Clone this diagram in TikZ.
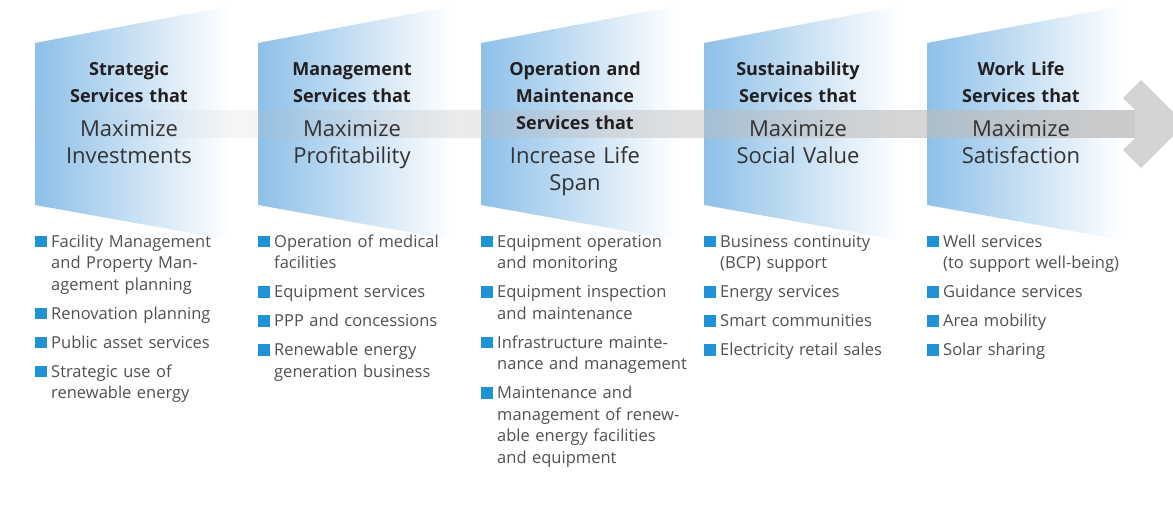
\documentclass[tikz,border=0pt]{standalone}
\usepackage{fontspec}
\usetikzlibrary{fadings}
\setmainfont{Open Sans}
\definecolor{panelblue}{HTML}{8EC0E8}
\definecolor{bandgray}{HTML}{BDBDBD}
\definecolor{headgray}{HTML}{D3D3D3}
\definecolor{sqblue}{HTML}{1F93D6}
\definecolor{headtext}{HTML}{231F20}
\definecolor{subtext}{HTML}{333333}
\definecolor{listtext}{HTML}{505050}
\tikzfading[name=bandfade, left color=transparent!100, right color=transparent!20]
\newcommand{\sqmark}{{\color{sqblue}\rule{11.5pt}{11.5pt}}}
\newcommand{\svc}[1]{\par\noindent\hangindent=16pt\hangafter=1\makebox[16pt][l]{\sqmark}\rule{0pt}{14pt}#1\par}
\tikzset{
  svchead/.style={text width=210pt, align=center, inner sep=0pt, anchor=north,
    font=\bfseries\fontsize{18}{27}\selectfont, text=headtext},
  svcsub/.style={text width=210pt, align=center, inner sep=0pt, anchor=north,
    font=\fontsize{22}{27}\selectfont, text=subtext},
  svclist/.style={text width=215pt, align=left, inner sep=0pt, anchor=north west,
    font=\fontsize{16.5}{21.5}\selectfont\setlength{\parskip}{7.5pt}, text=listtext}
}
\begin{document}
\begin{tikzpicture}[x=1pt,y=-1pt]
\useasboundingbox (0,0) rectangle (1173,507);
\foreach \i [evaluate=\i as \x using 35+223*(\i-1)] in {1,...,5}
  \shade[left color=panelblue, right color=white] (\x,43) -- (\x+195,6) -- (\x+195,240) -- (\x,205) -- cycle;
\fill[bandgray, path fading=bandfade] (35,110) rectangle (1136,138);
\fill[headgray] (1135,110) -- (1123,98) -- (1141,80) -- (1185,124) -- (1141,168) -- (1123,150) -- (1135,138) -- cycle;
\foreach \i/\hd/\sb [evaluate=\i as \x using 35+223*(\i-1)] in {
  1/{Strategic\\Services that}/{Maximize\\Investments},
  2/{Management\\Services that}/{Maximize\\Profitability},
  3/{Operation and\\Maintenance\\Services that}/{Increase Life\\Span},
  4/{Sustainability\\Services that}/{Maximize\\Social Value},
  5/{Work Life\\Services that}/{Maximize\\Satisfaction}} {
  \node[svchead] (head\i) at (\x+94,60.5) {\rule{0pt}{15pt}\hd};
  \node[svcsub] (sub\i) at ([yshift=-15.5pt]head\i.south) {\rule{0pt}{18pt}\sb};
}
\node[svclist] (list1) at (35,218) {\svc{Facility Management\newline and Property Man-\newline agement planning}
  \svc{Renovation planning}\svc{Public asset services}\svc{Strategic use of\newline renewable energy}};
\node[svclist] (list2) at (258,218) {\svc{Operation of medical\newline facilities}
  \svc{Equipment services}\svc{PPP and concessions}\svc{Renewable energy\newline generation business}};
\node[svclist] (list3) at (481,218) {\svc{Equipment operation\newline and monitoring}
  \svc{Equipment inspection\newline and maintenance}\svc{Infrastructure mainte-\newline nance and management}
  \svc{Maintenance and\newline management of renew-\newline able energy facilities\newline and equipment}};
\node[svclist] (list4) at (704,218) {\svc{Business continuity\newline (BCP) support}
  \svc{Energy services}\svc{Smart communities}\svc{Electricity retail sales}};
\node[svclist] (list5) at (927,218) {\svc{Well services\newline (to support well-being)}
  \svc{Guidance services}\svc{Area mobility}\svc{Solar sharing}};
\end{tikzpicture}
\end{document}
